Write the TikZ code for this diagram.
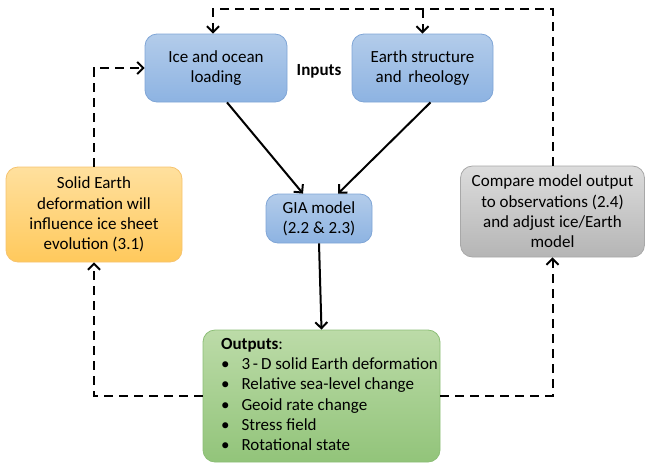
\documentclass[tikz,border=0pt]{standalone}
\usepackage{fontspec}
\setmainfont{Carlito}
\usepackage{tikz}
\usetikzlibrary{arrows.meta, positioning}

\definecolor{blueTop}{HTML}{B3CCEA}
\definecolor{blueBot}{HTML}{8DB3E2}
\definecolor{blueLine}{HTML}{7FA5D6}
\definecolor{orangeTop}{HTML}{FFE09E}
\definecolor{orangeBot}{HTML}{FFC95C}
\definecolor{orangeLine}{HTML}{F6C36E}
\definecolor{greyTop}{HTML}{DCDCDC}
\definecolor{greyBot}{HTML}{B5B5B5}
\definecolor{greyLine}{HTML}{A8A8A8}
\definecolor{greenTop}{HTML}{BCDBA8}
\definecolor{greenBot}{HTML}{92C47A}
\definecolor{greenLine}{HTML}{8CBE76}

\begin{document}
\begin{tikzpicture}[
  x=1pt, y=-1pt,
  every node/.style={font=\fontsize{17}{20.3}\selectfont},
  box/.style={rectangle, rounded corners=12pt, align=center, line width=0.8pt, inner sep=2pt},
  inbox/.style={box, draw=blueLine, top color=blueTop, bottom color=blueBot},
  sidebox/.style={box, draw=orangeLine, top color=orangeTop, bottom color=orangeBot},
  checkbox/.style={box, draw=greyLine, top color=greyTop, bottom color=greyBot},
  outbox/.style={box, draw=greenLine, top color=greenTop, bottom color=greenBot},
  arrow/.style={-{Straight Barb[length=6pt,width=12pt]}, line width=2pt},
  dasharrow/.style={arrow, dash pattern=on 9pt off 6pt}
]
\useasboundingbox (0,0) rectangle (645,464);

% Inputs
\node[inbox, minimum width=142pt, minimum height=68pt] (ice) at (216,68) {Ice and ocean\\loading};
\node[inbox, minimum width=141pt, minimum height=68pt] (earth) at (422.5,68) {Earth structure\\and \,rheology};
\node[font=\fontsize{17}{20.3}\selectfont\bfseries] (inputs) at (319,71) {Inputs};

% Model
\node[inbox, minimum width=106pt, minimum height=49pt] (gia) at (319,218.5) {GIA model\\(2.2 \& 2.3)};

% Feedback boxes
\node[sidebox, minimum width=176pt, minimum height=95pt] (solid) at (94,214.5)
  {Solid Earth\\deformation will\\influence ice sheet\\evolution (3.1)};
\node[checkbox, minimum width=184pt, minimum height=91pt] (compare) at (552.5,211.5)
  {Compare model output\\to observations (2.4)\\and adjust ice/Earth\\model};

% Outputs
\node[outbox, minimum width=237pt, minimum height=132pt] (outputs) at (321.5,396)
  {\kern8pt\begin{tabular}{@{}l@{\hspace{12pt}}l@{}}
   \multicolumn{2}{@{}l}{\textbf{Outputs}:}\\
   \textbullet & 3\,-\,D solid Earth deformation\\
   \textbullet & Relative sea-level change\\
   \textbullet & Geoid rate change\\
   \textbullet & Stress field\\
   \textbullet & Rotational state
   \end{tabular}\kern-8pt};

% Solid connectors
\draw[arrow] ([xshift=11pt]ice.south) -- ([xshift=-16pt]gia.north);
\draw[arrow] ([xshift=8pt]earth.south) -- ([xshift=19pt]gia.north);
\draw[arrow] (gia.south) -- (outputs.north);

% Dashed feedback loops
\coordinate (topline) at (319,9);
\coordinate (split) at (422.5,9);
\draw[dasharrow] (outputs.west) -| (solid.south);
\draw[dasharrow] (solid.north) |- (ice.west);
\draw[dasharrow] (outputs.east) -| (compare.south);
\draw[dasharrow] (compare.north) |- (topline) -| ([xshift=-3pt]ice.north);
\draw[dasharrow] (split) -- (earth.north);

\end{tikzpicture}
\end{document}
